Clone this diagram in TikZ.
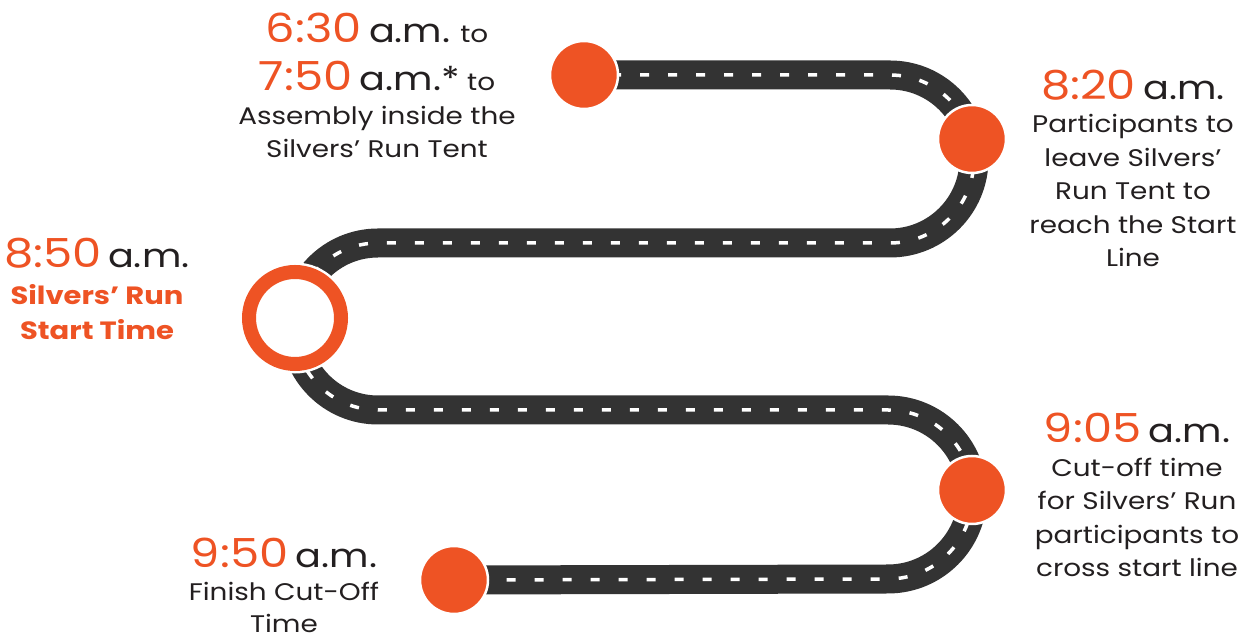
\documentclass[tikz,border=0pt]{standalone}
\usepackage{fontspec}
\setmainfont{Poppins}[FakeStretch=1.16]
\usetikzlibrary{backgrounds}
\definecolor{runorange}{HTML}{EE5324}
\definecolor{roadgray}{HTML}{333333}
\definecolor{inkblack}{HTML}{231F20}
\newcommand{\hrtime}[1]{{\mdseries\fontsize{40}{40}\selectfont\color{runorange}#1}}
\newcommand{\hram}[1]{{\mdseries\fontsize{33}{33}\selectfont\color{inkblack}#1}}
\newcommand{\hrto}{{\mdseries\fontsize{24}{24}\selectfont\color{inkblack}to}}
\begin{document}
\begin{tikzpicture}[x=1pt, y=1pt,
  stopdot/.style={circle, fill=runorange, draw=white, line width=2.5pt, minimum size=68pt, inner sep=0pt},
  startring/.style={circle, fill=white, draw=runorange, line width=14pt, minimum size=92pt, inner sep=0pt, preaction={draw=white, line width=19pt}},
  timetext/.style={align=center, anchor=base, inner sep=0pt, text=inkblack, font=\fontsize{24}{33.5}\selectfont},
  road/.style={draw=roadgray, line width=29pt, postaction={draw=white, line width=3.5pt, dash pattern=on 9pt off 19pt}}]
  \useasboundingbox (0,0) rectangle (1253,639);
  % stops along the road
  \node[stopdot] (n1) at (584,564) {};
  \node[stopdot] (n2) at (972,500) {};
  \node[startring] (n3) at (295,321) {};
  \node[stopdot] (n4) at (972,149) {};
  \node[stopdot] (n5) at (454,59) {};
  % the road
  \begin{scope}[on background layer]
    \draw[road] (n1.center) -- (890,564) arc[start angle=90, end angle=-90, radius=84]
      -- (378,396) arc[start angle=90, end angle=270, radius=83.5]
      -- (888,229) arc[start angle=90, end angle=-90, radius=84.5] -- (n5.center);
  \end{scope}
  % times (placed by the baseline of their last line)
  \node[timetext] (t1) at (377,481) {\hrtime{6:30} \hram{a.m.} \hrto\\[15pt] \hrtime{7:50} \hram{a.m.*} \hrto\\ Assembly inside the\\ Silvers’ Run Tent};
  \node[timetext] (t2) at (1133,372) {\hrtime{8:20} \hram{a.m.}\\ Participants to\\ leave Silvers’\\ Run Tent to\\ reach the Start\\ Line};
  \node[timetext, text=runorange, font=\fontsize{25}{35}\selectfont\bfseries] (t3) at (97,299) {\hrtime{8:50} \hram{a.m.}\\[2pt] Silvers’ Run\\ Start Time};
  \node[timetext] (t4) at (1137,62) {\hrtime{9:05} \hram{a.m.}\\ Cut-off time\\ for Silvers’ Run\\ participants to\\ cross start line};
  \node[timetext, font=\fontsize{24}{32.5}\selectfont] (t5) at (284,6) {\hrtime{9:50} \hram{a.m.}\\ Finish Cut-Off\\ Time};
\end{tikzpicture}
\end{document}
